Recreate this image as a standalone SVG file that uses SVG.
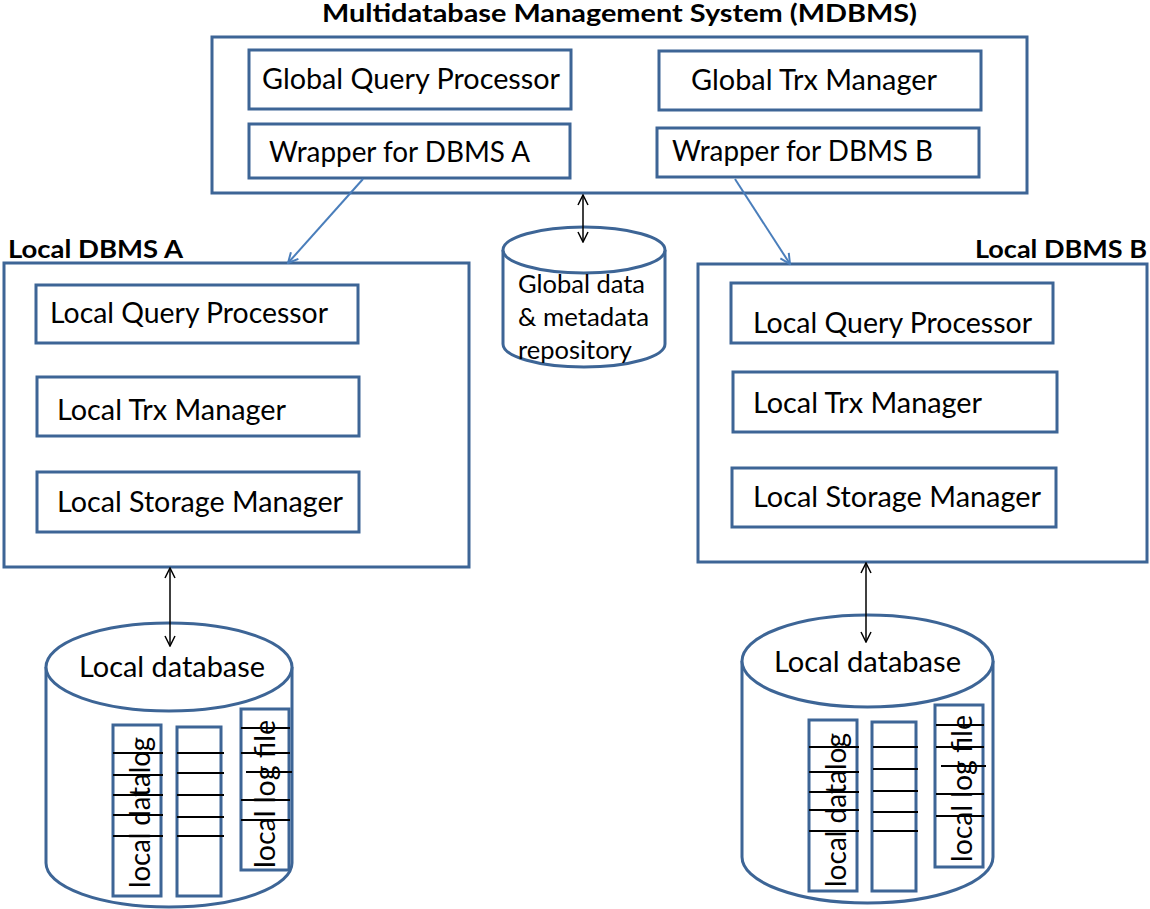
<svg xmlns="http://www.w3.org/2000/svg" width="1150" height="909" viewBox="0 0 1150 909">
  <style>
    .box { fill: #ffffff; stroke: #3d6596; stroke-width: 3; }
    .cyl { fill: #ffffff; stroke: #3d6596; stroke-width: 3; }
    .t { font-family: Lato, "Liberation Sans", sans-serif; font-size: 28px; fill: #000000; }
    .h { font-family: Lato, "Liberation Sans", sans-serif; font-size: 24px; font-weight: bold; fill: #000000; }
    .blue { stroke: #4a7ebb; stroke-width: 2; fill: none; }
    .blk { stroke: #000000; stroke-width: 1.5; fill: none; }
    .rule { stroke: #000000; stroke-width: 2; }
  </style>
  <defs>
    <marker id="arrBlue" viewBox="0 0 12 12" refX="11" refY="6" markerWidth="12" markerHeight="12" markerUnits="userSpaceOnUse" orient="auto">
      <path d="M1,1 L11,6 L1,11" fill="none" stroke="#4a7ebb" stroke-width="2"/>
    </marker>
    <marker id="arrBlk" viewBox="0 0 12 12" refX="11" refY="6" markerWidth="12" markerHeight="12" markerUnits="userSpaceOnUse" orient="auto-start-reverse">
      <path d="M1,1 L11,6 L1,11" fill="none" stroke="#000000" stroke-width="1.5"/>
    </marker>
  </defs>

  <rect width="1150" height="909" fill="#ffffff"/>

  <!-- MDBMS -->
  <g id="mdbms">
    <text class="h" x="322" y="22" textLength="595" lengthAdjust="spacingAndGlyphs">Multidatabase Management System (MDBMS)</text>
    <rect class="box" x="212" y="37" width="815" height="156"/>
  </g>
  <g id="global-query-processor">
    <rect class="box" x="249" y="50" width="322" height="59"/>
    <text class="t" x="262" y="89" textLength="298" lengthAdjust="spacingAndGlyphs">Global Query Processor</text>
  </g>
  <g id="global-trx-manager">
    <rect class="box" x="659" y="51" width="322" height="59"/>
    <text class="t" x="691" y="90" textLength="246" lengthAdjust="spacingAndGlyphs">Global Trx Manager</text>
  </g>
  <g id="wrapper-a">
    <rect class="box" x="249" y="124" width="321" height="54"/>
    <text class="t" x="269" y="162" textLength="261" lengthAdjust="spacingAndGlyphs">Wrapper for DBMS A</text>
  </g>
  <g id="wrapper-b">
    <rect class="box" x="657" y="128" width="322" height="49"/>
    <text class="t" x="672" y="161" textLength="261" lengthAdjust="spacingAndGlyphs">Wrapper for DBMS B</text>
  </g>

  <!-- Global repository -->
  <g id="global-repository">
    <path class="cyl" d="M503,250 L503,344 A81,23 0 0 0 665,344 L665,250"/>
    <ellipse class="cyl" cx="584" cy="250" rx="81" ry="23"/>
    <text class="t" x="518" y="293" textLength="127" lengthAdjust="spacingAndGlyphs" style="font-size:25px">Global data</text>
    <text class="t" x="518" y="326" textLength="131" lengthAdjust="spacingAndGlyphs" style="font-size:25px">&amp; metadata</text>
    <text class="t" x="518" y="359" textLength="114" lengthAdjust="spacingAndGlyphs" style="font-size:25px">repository</text>
  </g>

  <!-- Local DBMS A -->
  <g id="local-dbms-a">
    <text class="h" x="8" y="258" textLength="175" lengthAdjust="spacingAndGlyphs">Local DBMS A</text>
    <rect class="box" x="4" y="263" width="465" height="304"/>
  </g>
  <g id="local-query-processor-a">
    <rect class="box" x="36" y="285" width="322" height="58"/>
    <text class="t" x="50" y="323" textLength="278" lengthAdjust="spacingAndGlyphs">Local Query Processor</text>
  </g>
  <g id="local-trx-manager-a">
    <rect class="box" x="37" y="377" width="322" height="59"/>
    <text class="t" x="57" y="420" textLength="229" lengthAdjust="spacingAndGlyphs">Local Trx Manager</text>
  </g>
  <g id="local-storage-manager-a">
    <rect class="box" x="37" y="472" width="322" height="60"/>
    <text class="t" x="57" y="512" textLength="286" lengthAdjust="spacingAndGlyphs">Local Storage Manager</text>
  </g>

  <!-- Local DBMS B -->
  <g id="local-dbms-b">
    <text class="h" x="975" y="258" textLength="172" lengthAdjust="spacingAndGlyphs">Local DBMS B</text>
    <rect class="box" x="698" y="264" width="449" height="298"/>
  </g>
  <g id="local-query-processor-b">
    <rect class="box" x="731" y="283" width="322" height="60"/>
    <text class="t" x="753" y="333" textLength="279" lengthAdjust="spacingAndGlyphs">Local Query Processor</text>
  </g>
  <g id="local-trx-manager-b">
    <rect class="box" x="733" y="372" width="324" height="60"/>
    <text class="t" x="753" y="413" textLength="229" lengthAdjust="spacingAndGlyphs">Local Trx Manager</text>
  </g>
  <g id="local-storage-manager-b">
    <rect class="box" x="732" y="468" width="324" height="59"/>
    <text class="t" x="753" y="507" textLength="288" lengthAdjust="spacingAndGlyphs">Local Storage Manager</text>
  </g>

  <!-- Local database A -->
  <g id="local-database-a">
    <path class="cyl" d="M46,667 L46,863 A123,44 0 0 0 292,863 L292,667"/>
    <ellipse class="cyl" cx="169" cy="667" rx="123" ry="44"/>
    <text class="t" x="79" y="677" textLength="186" lengthAdjust="spacingAndGlyphs">Local database</text>
    <rect class="box" x="113" y="725" width="48" height="171"/>
    <rect class="box" x="177" y="727" width="44" height="169"/>
    <rect class="box" x="241" y="709" width="48" height="161"/>
    <text class="t" transform="translate(150,888) rotate(-90)" textLength="151" lengthAdjust="spacingAndGlyphs">local datalog</text>
    <text class="t" transform="translate(275,868) rotate(-90)" textLength="148" lengthAdjust="spacingAndGlyphs">local log file</text>
    <g class="rule">
      <line x1="113" y1="753" x2="163" y2="753"/>
      <line x1="113" y1="775" x2="163" y2="775"/>
      <line x1="113" y1="795" x2="163" y2="795"/>
      <line x1="113" y1="815" x2="163" y2="815"/>
      <line x1="113" y1="836" x2="163" y2="836"/>
      <line x1="177" y1="753" x2="224" y2="753"/>
      <line x1="177" y1="773" x2="224" y2="773"/>
      <line x1="177" y1="795" x2="224" y2="795"/>
      <line x1="177" y1="817" x2="224" y2="817"/>
      <line x1="177" y1="836" x2="224" y2="836"/>
      <line x1="241" y1="728" x2="290" y2="728"/>
      <line x1="241" y1="753" x2="290" y2="753"/>
      <line x1="246" y1="772" x2="292" y2="772"/>
      <line x1="241" y1="800" x2="290" y2="800"/>
      <line x1="241" y1="820" x2="290" y2="820"/>
    </g>
  </g>

  <!-- Local database B -->
  <g id="local-database-b">
    <path class="cyl" d="M742,661 L742,857 A125.5,46 0 0 0 993,857 L993,661"/>
    <ellipse class="cyl" cx="867.5" cy="661" rx="125.5" ry="46"/>
    <text class="t" x="774" y="672" textLength="187" lengthAdjust="spacingAndGlyphs">Local database</text>
    <rect class="box" x="809" y="720" width="48" height="171"/>
    <rect class="box" x="872" y="722" width="44" height="169"/>
    <rect class="box" x="935" y="705" width="48" height="162"/>
    <text class="t" transform="translate(846,887) rotate(-90)" textLength="154" lengthAdjust="spacingAndGlyphs">local datalog</text>
    <text class="t" transform="translate(972,862) rotate(-90)" textLength="147" lengthAdjust="spacingAndGlyphs">local log file</text>
    <g class="rule">
      <line x1="809" y1="747" x2="859" y2="747"/>
      <line x1="809" y1="772" x2="859" y2="772"/>
      <line x1="809" y1="792" x2="859" y2="792"/>
      <line x1="809" y1="810" x2="859" y2="810"/>
      <line x1="809" y1="831" x2="859" y2="831"/>
      <line x1="873" y1="747" x2="918" y2="747"/>
      <line x1="873" y1="769" x2="918" y2="769"/>
      <line x1="873" y1="791" x2="918" y2="791"/>
      <line x1="873" y1="812" x2="918" y2="812"/>
      <line x1="873" y1="831" x2="918" y2="831"/>
      <line x1="936" y1="725" x2="984" y2="725"/>
      <line x1="936" y1="747" x2="984" y2="747"/>
      <line x1="941" y1="766" x2="986" y2="766"/>
      <line x1="936" y1="794" x2="984" y2="794"/>
      <line x1="936" y1="816" x2="984" y2="816"/>
    </g>
  </g>

  <!-- Connectors -->
  <g id="connectors">
    <line class="blue" x1="363" y1="179" x2="288" y2="263" marker-end="url(#arrBlue)"/>
    <line class="blue" x1="735" y1="179" x2="790" y2="264" marker-end="url(#arrBlue)"/>
    <line class="blk" x1="583" y1="195" x2="583" y2="242" marker-start="url(#arrBlk)" marker-end="url(#arrBlk)"/>
    <line class="blk" x1="170" y1="568" x2="170" y2="646" marker-start="url(#arrBlk)" marker-end="url(#arrBlk)"/>
    <line class="blk" x1="866" y1="563" x2="866" y2="642" marker-start="url(#arrBlk)" marker-end="url(#arrBlk)"/>
  </g>
</svg>
